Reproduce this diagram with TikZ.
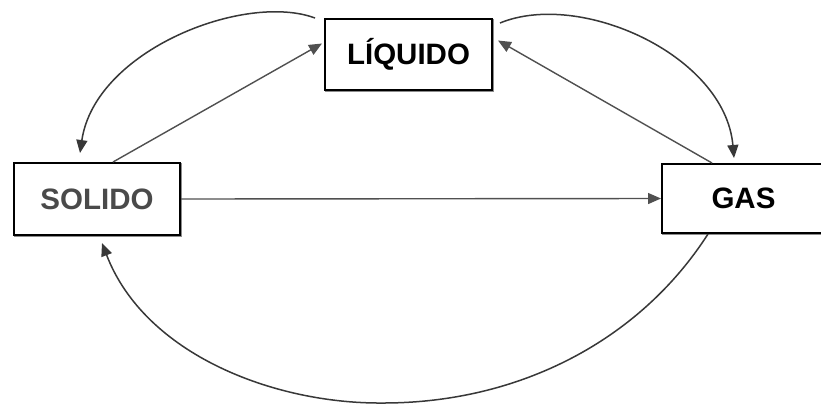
\documentclass[tikz,border=0pt]{standalone}
\usepackage{fontspec}
\setmainfont{Liberation Sans}
\usetikzlibrary{arrows.meta,calc}
\definecolor{linegray}{HTML}{505050}
\definecolor{curvegray}{HTML}{383838}
\definecolor{labelgray}{HTML}{4A4A4A}
\tikzset{
  state/.style={draw=black, line width=2pt, fill=white, inner sep=0pt,
    font=\fontsize{29.5}{31}\selectfont\bfseries,
    preaction={draw=black!45, line width=2pt, transform canvas={shift={(1.2pt,-1.2pt)}}}},
  link/.style={draw=linegray, line width=1.4pt, -{Triangle[length=13pt,width=11pt]}},
  curvelink/.style={draw=curvegray, line width=1.5pt, -{Triangle[length=13pt,width=11pt]}}
}
\begin{document}
\begin{tikzpicture}[x=1pt,y=-1pt]
\useasboundingbox (0,0) rectangle (821,405);
\fill[white] (0,0) rectangle (821,405);

% the three states of matter
\node[state, minimum width=166pt, minimum height=72pt, text=labelgray] (sol) at (97,199) {SOLIDO};
\node[state, minimum width=167pt, minimum height=71pt] (liq) at (408.5,54.5) {LÍQUIDO};
\node[state, minimum width=163pt, minimum height=69pt] (gas) at (743.5,198.5) {GAS};

% straight transitions
\draw[link] ($(sol.north)+(16,0)$) -- ($(liq.west)+(-2,-11)$);
\draw[link] ($(gas.north west)+(51,0)$) -- ($(liq.east)+(5,-14)$);
\draw[link] (sol.east) -- (gas.west);

% curved transitions
\draw[curvelink] ($(liq.north west)+(-9,0)$) .. controls (245,-8) and (95,50) .. ($(sol.north)+(-17,-9)$);
\draw[curvelink] ($(liq.north east)+(7,5)$) .. controls (580,-10) and (725,55) .. ($(gas.north west)+(73,-5)$);
\coordinate (low) at (383,403);
\draw[curvelink] ($(gas.south west)+(47,0)$) .. controls (640,340) and (520,403) .. (low)
  .. controls (275,404) and (145,355) .. ($(sol.south)+(5,7)$);
\end{tikzpicture}
\end{document}
